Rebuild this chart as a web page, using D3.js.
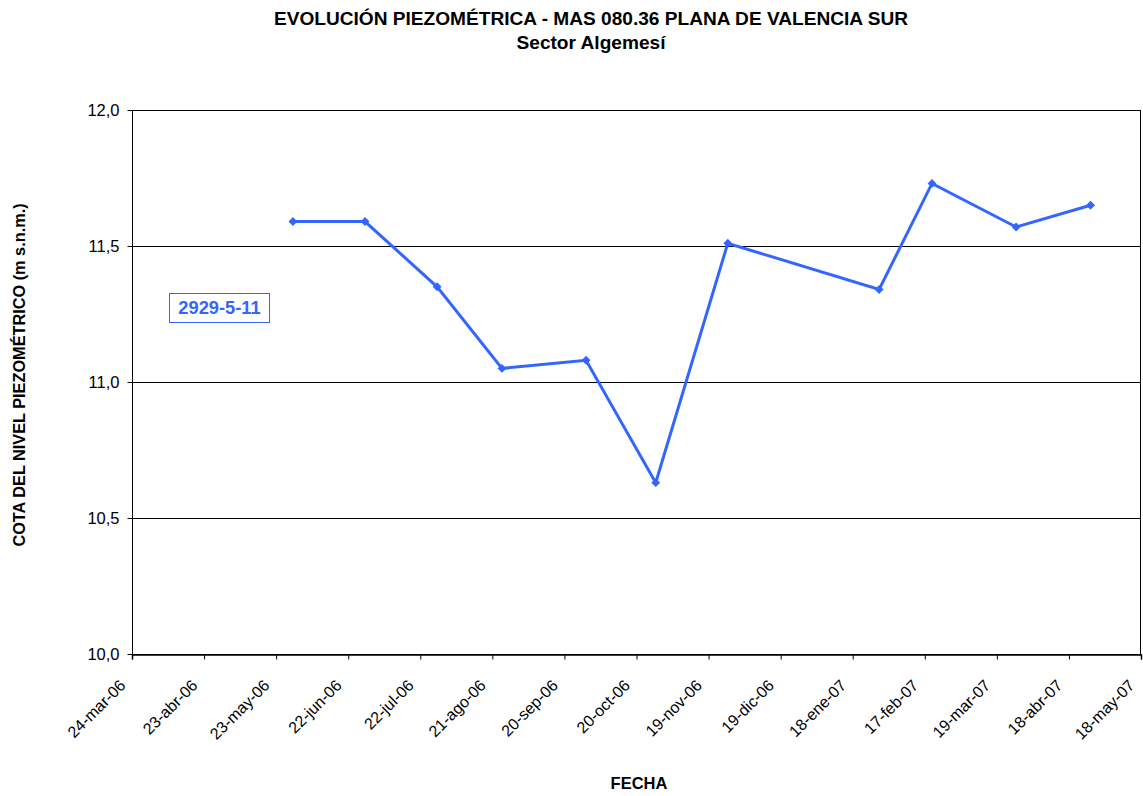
<!DOCTYPE html>
<html><head><meta charset="utf-8">
<script src="https://cdn.jsdelivr.net/npm/d3@7"></script>
<style>body{margin:0;background:#fff}svg{font-family:"Liberation Sans",Arial,sans-serif}</style>
</head><body><svg id="c" width="1143" height="796"></svg>
<script>
const dates = ["2006-05-30","2006-06-29","2006-07-29","2006-08-25","2006-09-29","2006-10-28","2006-11-27","2007-01-29","2007-02-20","2007-03-27","2007-04-27"];
const values = [11.59,11.59,11.35,11.05,11.08,10.63,11.51,11.34,11.73,11.57,11.65];
const yTicks = [10.0,10.5,11.0,11.5,12.0];
const monthNames = ["ene","feb","mar","abr","may","jun","jul","ago","sep","oct","nov","dic"];
const seriesName = "2929-5-11";
const title1 = "EVOLUCIÓN PIEZOMÉTRICA - MAS 080.36 PLANA DE VALENCIA SUR";
const title2 = "Sector Algemesí";

const parse = d3.utcParse("%Y-%m-%d");
const start = parse("2006-03-24"), end = parse("2007-05-18");
const xTicks = d3.utcDay.range(start, d3.utcDay.offset(end,1)).filter((d,i)=>i%30===0);
const fmt = d => `${d.getUTCDate()}-${monthNames[d.getUTCMonth()]}-${String(d.getUTCFullYear()).slice(2)}`;

const L=132,R=1141,T=110,B=654;
const x = d3.scaleUtc().domain([start,end]).range([L,R]);
const y = d3.scaleLinear().domain([10,12]).range([B,T]);
const svg = d3.select("#c");
const blue = "#3366FF";

svg.append("text").attr("x",591).attr("y",25).attr("text-anchor","middle").attr("font-weight","bold").attr("font-size",19.1).text(title1);
svg.append("text").attr("x",591).attr("y",49).attr("text-anchor","middle").attr("font-weight","bold").attr("font-size",19.1).text(title2);

// gridlines
svg.append("g").selectAll("line").data(yTicks.slice(1)).join("line")
  .attr("x1",L).attr("x2",R).attr("y1",d=>Math.round(y(d))+0.5).attr("y2",d=>Math.round(y(d))+0.5)
  .attr("stroke","#000").attr("stroke-width",1);
svg.append("rect").attr("x",L+0.5).attr("y",T+0.5).attr("width",R-L-1).attr("height",B-T).attr("fill","none").attr("stroke","#000");

const ya = svg.append("g").attr("transform",`translate(${L+0.5},0)`)
  .call(d3.axisLeft(y).tickValues(yTicks).tickSize(5).tickPadding(8).tickFormat(d=>d3.format(".1f")(d).replace(".",",")));
ya.select(".domain").remove();
ya.selectAll("text").attr("font-size",16.5).attr("font-family","Liberation Sans, Arial, sans-serif").attr("fill","#000");

const xa = svg.append("g").attr("transform",`translate(0,${B+0.5})`)
  .call(d3.axisBottom(x).tickValues(xTicks).tickSize(5).tickFormat(fmt));
xa.select(".domain").attr("stroke-width",1.5);
xa.selectAll("text").attr("font-size",16).attr("font-family","Liberation Sans, Arial, sans-serif").attr("fill","#000")
  .attr("text-anchor","end").attr("x",0).attr("y",0).attr("dy",0).attr("transform","translate(-6,32) rotate(-45)");

svg.append("text").attr("x",639).attr("y",789).attr("text-anchor","middle").attr("font-weight","bold").attr("font-size",16.5).text("FECHA");
svg.append("text").attr("transform","translate(25,375) rotate(-90)").attr("text-anchor","middle").attr("font-weight","bold").attr("font-size",16.3).text("COTA DEL NIVEL PIEZOMÉTRICO (m s.n.m.)");

const pts = dates.map((d,i)=>({d:parse(d),v:values[i]}));
svg.append("path").datum(pts).attr("fill","none").attr("stroke",blue).attr("stroke-width",3)
  .attr("d",d3.line().x(p=>x(p.d)).y(p=>y(p.v)));
svg.append("g").selectAll("path").data(pts).join("path")
  .attr("transform",p=>`translate(${x(p.d)},${y(p.v)})`)
  .attr("d",d3.symbol(d3.symbolDiamond2,50)).attr("fill",blue);

svg.append("rect").attr("x",169.5).attr("y",293.5).attr("width",100).attr("height",29).attr("fill","#fff").attr("stroke",blue);
svg.append("text").attr("x",219.5).attr("y",313.5).attr("text-anchor","middle").attr("font-weight","bold").attr("font-size",18.3).attr("fill",blue).text(seriesName);
</script></body></html>
